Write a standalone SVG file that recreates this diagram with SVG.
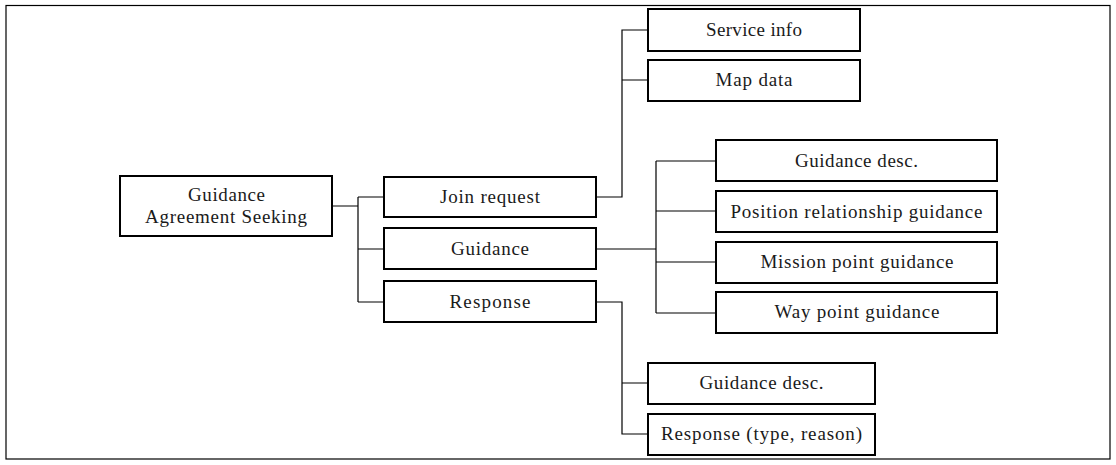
<svg xmlns="http://www.w3.org/2000/svg" width="1116" height="465" viewBox="0 0 1116 465">
<style>
.box{fill:#fff;stroke:#000;stroke-width:2}
.frame{fill:#fff;stroke:#000;stroke-width:1.2}
.t{font-family:"Liberation Serif","DejaVu Serif",serif;font-size:19px;fill:#1a1a1a;text-anchor:middle}
.c{fill:none;stroke:#000;stroke-width:1.2}
</style>
<rect class="frame" x="6" y="5.5" width="1104" height="453.5"/>
<g id="connectors">
<path class="c" d="M332,206 H358 M358,197 V302 M358,197 H384 M358,249 H384 M358,302 H384"/>
<path class="c" d="M596,197 H622 V30 H648 M622,80 H648"/>
<path class="c" d="M596,249 H656 M656,161 V313 M656,161 H716 M656,211 H716 M656,262 H716 M656,313 H716"/>
<path class="c" d="M596,302 H622 V434 H648 M622,383 H648"/>
</g>
<g id="root"><rect class="box" x="120" y="176" width="212" height="60"/><text class="t" x="226.5" y="201" textLength="77" lengthAdjust="spacing">Guidance</text><text class="t" x="226" y="223" textLength="162" lengthAdjust="spacing">Agreement Seeking</text></g>
<g id="join"><rect class="box" x="384" y="177" width="212" height="40"/><text class="t" x="490" y="203" textLength="100" lengthAdjust="spacing">Join request</text></g>
<g id="guidance"><rect class="box" x="384" y="228" width="212" height="41"/><text class="t" x="490" y="255" textLength="78" lengthAdjust="spacing">Guidance</text></g>
<g id="response"><rect class="box" x="384" y="281" width="212" height="41"/><text class="t" x="490" y="308" textLength="81" lengthAdjust="spacing">Response</text></g>
<g id="service"><rect class="box" x="648" y="9" width="212" height="42"/><text class="t" x="754" y="36" textLength="96" lengthAdjust="spacing">Service info</text></g>
<g id="map"><rect class="box" x="648" y="60" width="212" height="41"/><text class="t" x="754" y="86" textLength="77" lengthAdjust="spacing">Map data</text></g>
<g id="gdesc1"><rect class="box" x="716" y="140" width="281" height="41"/><text class="t" x="856.5" y="167" textLength="123" lengthAdjust="spacing">Guidance desc.</text></g>
<g id="posrel"><rect class="box" x="716" y="191" width="281" height="41"/><text class="t" x="856.5" y="218" textLength="252" lengthAdjust="spacing">Position relationship guidance</text></g>
<g id="mission"><rect class="box" x="716" y="242" width="281" height="41"/><text class="t" x="857" y="268" textLength="193" lengthAdjust="spacing">Mission point guidance</text></g>
<g id="way"><rect class="box" x="716" y="292" width="281" height="41"/><text class="t" x="857" y="318" textLength="165" lengthAdjust="spacing">Way point guidance</text></g>
<g id="gdesc2"><rect class="box" x="648" y="363" width="227" height="41"/><text class="t" x="761.5" y="389" textLength="124" lengthAdjust="spacing">Guidance desc.</text></g>
<g id="resptype"><rect class="box" x="648" y="414" width="227" height="41"/><text class="t" x="761.5" y="440" textLength="201" lengthAdjust="spacing">Response (type, reason)</text></g>
</svg>
